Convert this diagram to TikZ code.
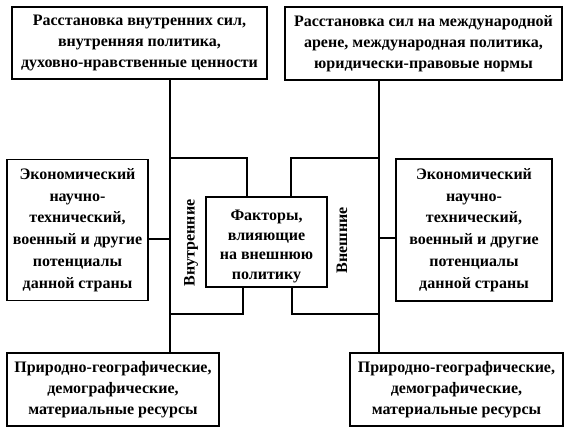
\documentclass[tikz,border=0pt]{standalone}
\usepackage{fontspec}
\setmainfont{Liberation Serif}
\usetikzlibrary{calc}
\tikzset{
  every path/.style={
    black,
    line width=1.8pt
  },
  factorbox/.style={
    draw,
    line width=1.8pt,
    align=center,
    inner sep=0pt,
    font=\fontsize{16}{21}\selectfont\bfseries
  },
  sidelabel/.style={
    rotate=90,
    inner sep=0pt,
    font=\fontsize{16}{18}\selectfont\bfseries
  }
}

\begin{document}
\begin{tikzpicture}[x=1pt,y=-1pt]
    \useasboundingbox (0,0) rectangle (570,434);

    % верхние блоки
    \node[factorbox,minimum width=255pt,minimum height=72pt] (inpol) at (139.5,43)
        {Расстановка внутренних сил,\\внутренняя политика,\\духовно-нравственные ценности};
    \node[factorbox,minimum width=277pt,minimum height=73pt] (expol) at (423.5,43.5)
        {Расстановка сил на международной\\арене, международная политика,\\юридически-правовые нормы};

    % средние блоки
    \node[factorbox,minimum width=141pt,minimum height=141pt,
          font=\fontsize{16}{21.7}\selectfont\bfseries] (inpot) at (77.5,230)
        {Экономический\\научно-\\технический,\\военный и другие\\потенциалы\\данной страны};
    \node[factorbox,minimum width=156pt,minimum height=142pt,
          font=\fontsize{16}{21.7}\selectfont\bfseries] (expot) at (474,230)
        {Экономический\\научно-\\технический,\\военный и другие\\потенциалы\\данной страны};

    % центральный блок
    \node[factorbox,minimum width=121pt,minimum height=90pt,
          font=\fontsize{16}{19.5}\selectfont\bfseries] (factors) at (266.5,242)
        {\rule{0pt}{19pt}Факторы,\\влияющие\\на внешнюю\\политику};

    % нижние блоки
    \node[factorbox,minimum width=212pt,minimum height=73pt] (inres) at (113,389.5)
        {Природно-географические,\\демографические,\\материальные ресурсы};
    \node[factorbox,minimum width=213pt,minimum height=73pt] (exres) at (456.5,389.5)
        {Природно-географические,\\демографические,\\материальные ресурсы};

    % подписи
    \node[sidelabel] (inlab) at (191,243) {Внутренние};
    \node[sidelabel] (exlab) at (342,240) {Внешние};

    % стволы
    \coordinate (spineL) at (170,0);
    \coordinate (spineR) at (379,0);
    \draw (inpol.south -| spineL) -- (inres.north -| spineL);
    \draw (expol.south -| spineR) -- (exres.north -| spineR);

    % отводы к средним блокам
    \draw ([yshift=-9pt]inpot.east) -- ([yshift=-9pt]inpot.east -| spineL);
    \draw ([yshift=-8pt]expot.west) -- ([yshift=-8pt]expot.west -| spineR);

    % скобы к центральному блоку
    \coordinate (topL) at (247,158);
    \coordinate (topR) at (291,158);
    \coordinate (botL) at (243,314);
    \coordinate (botR) at (292,314);
    \draw (topL -| spineL) -- (topL) -- (topL |- factors.north);
    \draw (topR -| spineR) -- (topR) -- (topR |- factors.north);
    \draw (botL |- factors.south) -- (botL) -- (botL -| spineL);
    \draw (botR |- factors.south) -- (botR) -- (botR -| spineR);
\end{tikzpicture}
\end{document}
